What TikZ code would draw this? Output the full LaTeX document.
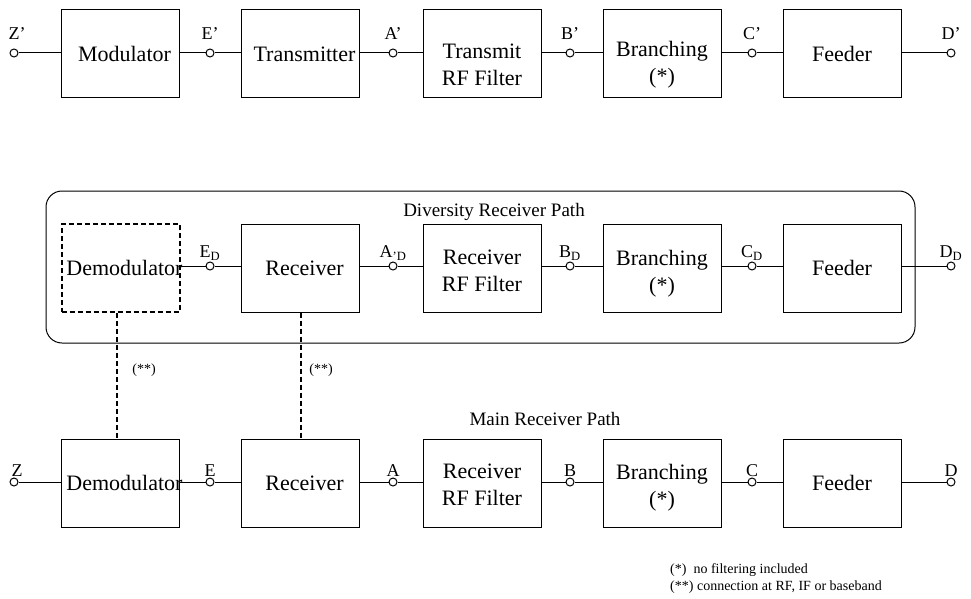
\documentclass[tikz,border=0pt]{standalone}
\usepackage{fontspec}
\setmainfont{Liberation Serif}
% text nudged right inside a box without widening it
\newcommand{\nudgetext}[1]{\makebox[0pt]{\hspace{8pt}#1}}
\begin{document}
\begin{tikzpicture}[x=1pt,y=-1pt,
  blk/.style={draw, line width=1pt, minimum width=118pt, minimum height=88pt,
    inner sep=0pt, align=center, font=\fontsize{22}{27}\selectfont},
  btxt/.style={font=\fontsize{22}{27}\selectfont, align=center, inner sep=0pt},
  dblk/.style={blk, line width=2pt, dash pattern=on 5pt off 3pt},
  port/.style={circle, draw, fill=white, line width=1pt, minimum size=8pt,
    inner sep=0pt, label distance=5pt},
  plbl/.style={font=\fontsize{18}{20}\selectfont, inner sep=1pt},
  tlbl/.style={plbl, yshift=8pt},
  wire/.style={line width=1pt},
  link/.style={line width=2pt, dash pattern=on 5pt off 3pt},
  ttl/.style={font=\fontsize{19}{22}\selectfont, inner sep=0pt},
  note/.style={font=\fontsize{14}{17}\selectfont, inner sep=0pt, align=left}
]
\useasboundingbox (0,0) rectangle (971,599);

% ---------------- transmit chain ----------------
\node[blk] (mod) at (120.5,54) {\nudgetext{Modulator}};
\node[blk] (tx)  at (300.5,54) {\nudgetext{Transmitter}};
\node[blk, label={[btxt,yshift=-11pt]center:Transmit\\RF Filter}] (trf) at (482,54) {};
\node[blk, label={[btxt,yshift=-11pt]center:Branching\\(*)}] (tbr) at (662,54) {};
\node[blk] (tfd) at (842,54) {Feeder};

\node[port, label={[tlbl,xshift=3pt]above:Z’}] (tz) at (14,53) {};
\node[port, label={[tlbl]above:E’}] (te) at (210,53) {};
\node[port, label={[tlbl]above:A’}] (ta) at (393,53) {};
\node[port, label={[tlbl]above:B’}] (tb) at (570,53) {};
\node[port, label={[tlbl]above:C’}] (tc) at (752,53) {};
\node[port, label={[tlbl]above:D’}] (td) at (951,53) {};

\draw[wire] (tz) -- (tz -| mod.west);
\draw[wire] (mod.east |- te) -- (te);  \draw[wire] (te) -- (te -| tx.west);
\draw[wire] (tx.east |- ta) -- (ta);   \draw[wire] (ta) -- (ta -| trf.west);
\draw[wire] (trf.east |- tb) -- (tb);  \draw[wire] (tb) -- (tb -| tbr.west);
\draw[wire] (tbr.east |- tc) -- (tc);  \draw[wire] (tc) -- (tc -| tfd.west);
\draw[wire] (tfd.east |- td) -- (td);

% ---------------- diversity receiver chain ----------------
\node[draw, line width=1pt, rounded corners=16pt, minimum width=869pt,
  minimum height=152pt, inner sep=0pt] (div) at (480.5,267) {};
\node[ttl] (divt) at (494,212) {Diversity Receiver Path};

\node[dblk] (ddem) at (120.5,268) {\nudgetext{Demodulator}};
\node[blk]  (drx)  at (300.5,268) {\nudgetext{Receiver}};
\node[blk, label={[btxt,yshift=-3pt]center:Receiver\\RF Filter}] (drf) at (482,268) {};
\node[blk, label={[btxt,yshift=-6pt]center:Branching\\(*)}] (dbr) at (662,268) {};
\node[blk]  (dfd)  at (842,268) {Feeder};

\node[port, label={[plbl]above:E\textsubscript{D}}] (de) at (210,266) {};
\node[port, label={[plbl]above:A\textsubscript{’D}}] (da) at (393,266) {};
\node[port, label={[plbl]above:B\textsubscript{D}}] (db) at (570,266) {};
\node[port, label={[plbl]above:C\textsubscript{D}}] (dc) at (752,266) {};
\node[port, label={[plbl]above:D\textsubscript{D}}] (dd) at (951,266) {};

\draw[wire] (ddem.east |- de) -- (de); \draw[wire] (de) -- (de -| drx.west);
\draw[wire] (drx.east |- da) -- (da);  \draw[wire] (da) -- (da -| drf.west);
\draw[wire] (drf.east |- db) -- (db);  \draw[wire] (db) -- (db -| dbr.west);
\draw[wire] (dbr.east |- dc) -- (dc);  \draw[wire] (dc) -- (dc -| dfd.west);
\draw[wire] (dfd.east |- dd) -- (dd);

% ---------------- main receiver chain ----------------
\node[ttl] (mant) at (545,419) {Main Receiver Path};

\node[blk] (mdem) at (120.5,483) {\nudgetext{Demodulator}};
\node[blk] (mrx)  at (300.5,483) {\nudgetext{Receiver}};
\node[blk, label={[btxt,yshift=-2pt]center:Receiver\\RF Filter}] (mrf) at (482,483) {};
\node[blk, label={[btxt,yshift=-5pt]center:Branching\\(*)}] (mbr) at (662,483) {};
\node[blk] (mfd)  at (842,483) {Feeder};

\node[port, label={[plbl,xshift=3pt]above:Z}] (mz) at (14,482) {};
\node[port, label={[plbl]above:E}] (me) at (210,482) {};
\node[port, label={[plbl]above:A}] (ma) at (393,482) {};
\node[port, label={[plbl]above:B}] (mb) at (570,482) {};
\node[port, label={[plbl]above:C}] (mc) at (752,482) {};
\node[port, label={[plbl]above:D}] (md) at (951,482) {};

\draw[wire] (mz) -- (mz -| mdem.west);
\draw[wire] (mdem.east |- me) -- (me); \draw[wire] (me) -- (me -| mrx.west);
\draw[wire] (mrx.east |- ma) -- (ma);  \draw[wire] (ma) -- (ma -| mrf.west);
\draw[wire] (mrf.east |- mb) -- (mb);  \draw[wire] (mb) -- (mb -| mbr.west);
\draw[wire] (mbr.east |- mc) -- (mc);  \draw[wire] (mc) -- (mc -| mfd.west);
\draw[wire] (mfd.east |- md) -- (md);

% ---------------- cross connections ----------------
\draw[link] ([xshift=-4pt]ddem.south) -- ([xshift=-4pt]mdem.north);
\draw[link] (drx.south) -- (mrx.north);
\node[note] (c1) at (144,370) {(**)};
\node[note] (c2) at (321,370) {(**)};

% ---------------- notes ----------------
\node[note, anchor=west] (notes) at (670,578.5)
  {(*) \ no filtering included\\(**) connection at RF, IF or baseband};
\end{tikzpicture}
\end{document}
